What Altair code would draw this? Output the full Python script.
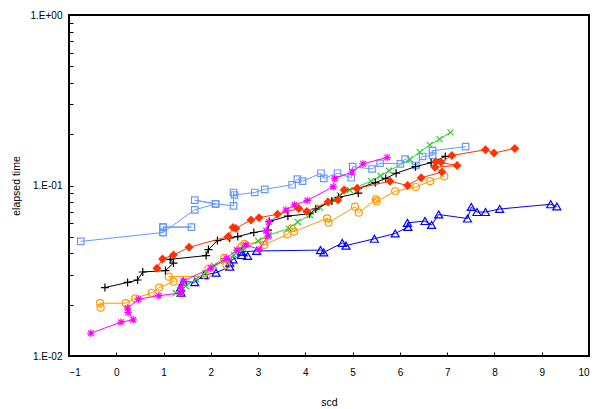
import altair as alt
import pandas as pd

# ---- data ----
SQ_X = [-0.75, 0.99, 0.99, 1.59, 0.99, 0.99, 1.66, 2.10, 1.66, 2.10, 2.48, 2.48, 2.50, 2.93, 3.14,
        3.72, 3.83, 3.94, 4.33, 4.39, 4.68, 4.97, 5.00, 5.41, 5.58, 6.01, 6.11, 6.34, 6.48, 6.69, 6.69, 7.39]
SQ_Y = [0.047, 0.053, 0.057, 0.057, 0.057, 0.053, 0.072, 0.078, 0.082, 0.078, 0.076, 0.091, 0.088, 0.091, 0.095,
        0.101, 0.109, 0.106, 0.118, 0.110, 0.118, 0.111, 0.129, 0.125, 0.135, 0.134, 0.143, 0.131, 0.148, 0.150, 0.160, 0.169]

DI_X = [0.86, 0.98, 1.21, 1.54, 2.37, 2.47, 2.53, 2.85, 3.02, 3.41, 3.86, 4.03, 4.48, 4.69, 4.82, 5.09,
        5.79, 6.16, 6.45, 6.89, 6.74, 7.21, 6.76, 6.87, 7.10, 7.81, 7.99, 8.43]
DI_Y = [0.0327, 0.0371, 0.0391, 0.0434, 0.0502, 0.0567, 0.0560, 0.0628, 0.0647, 0.0678, 0.0733, 0.0704, 0.0800,
        0.0822, 0.0941, 0.0960, 0.106, 0.100, 0.111, 0.120, 0.128, 0.131, 0.138, 0.137, 0.150, 0.162, 0.155, 0.165]

PL_X = [-0.24, 0.24, 0.45, 0.56, 1.04, 1.21, 1.14, 1.90, 1.95, 2.14, 2.40, 2.57, 2.91, 3.21, 3.24, 3.63,
        4.09, 4.22, 4.56, 4.70, 5.12, 5.11, 5.48, 5.70, 5.92, 6.33, 6.66, 6.96]
PL_Y = [0.0252, 0.0270, 0.0279, 0.0311, 0.0317, 0.0351, 0.0369, 0.0388, 0.0421, 0.0475, 0.0492, 0.0502, 0.0530,
        0.0548, 0.0615, 0.0662, 0.0683, 0.0728, 0.0811, 0.0851, 0.0903, 0.0960, 0.104, 0.110, 0.118, 0.129, 0.136, 0.148]

XX_X = [1.26, 1.47, 1.69, 1.88, 2.07, 2.28, 2.49, 2.70, 3.00, 3.23, 3.65, 3.84, 4.10, 4.31, 4.52, 4.73,
        4.94, 5.39, 5.59, 5.77, 6.21, 6.42, 6.63, 6.84, 7.07]
XX_Y = [0.0234, 0.0257, 0.0283, 0.0307, 0.0337, 0.0361, 0.0391, 0.0424, 0.0473, 0.0513, 0.0558, 0.0611, 0.0671,
        0.0741, 0.0811, 0.0880, 0.0941, 0.106, 0.114, 0.122, 0.142, 0.157, 0.173, 0.187, 0.205]

ST_X = [-0.54, 0.10, 0.36, 0.25, 0.24, 0.47, 0.90, 1.36, 1.37, 1.42, 2.00, 2.33, 2.55, 2.74, 3.02, 3.21,
        3.17, 3.23, 3.59, 3.77, 4.04, 4.59, 4.62, 4.99, 5.22, 5.73]
ST_Y = [0.0136, 0.0158, 0.0163, 0.0180, 0.0191, 0.0215, 0.0226, 0.0234, 0.0252, 0.0275, 0.0328, 0.0374, 0.0418,
        0.0448, 0.0422, 0.0506, 0.0543, 0.0611, 0.0718, 0.0769, 0.0817, 0.0984, 0.110, 0.120, 0.134, 0.146]

CI_X = [-0.33, -0.345, 0.20, 0.40, 0.75, 0.91, 1.21, 1.11, 1.91, 1.95, 2.28, 2.33, 2.65, 2.71, 3.11, 3.13,
        3.62, 3.71, 3.76, 4.46, 4.49, 5.05, 5.13, 5.49, 5.51, 5.90, 6.34, 6.64, 6.94]
CI_Y = [0.0192, 0.0204, 0.0204, 0.0218, 0.0235, 0.0252, 0.0273, 0.0292, 0.0294, 0.0326, 0.0376, 0.0342, 0.0438,
        0.0454, 0.0469, 0.0448, 0.0517, 0.0561, 0.0536, 0.0642, 0.0605, 0.0751, 0.0693, 0.0830, 0.0806, 0.0925,
        0.0980, 0.106, 0.113]

TR_X = [1.37, 1.36, 1.42, 1.66, 1.86, 2.11, 2.40, 2.40, 2.47, 2.65, 2.78, 2.65, 2.97, 4.32, 4.39, 4.78,
        4.86, 5.46, 5.90, 6.17, 6.16, 6.53, 6.67, 6.82, 7.43, 7.51, 7.63, 7.81, 8.11, 9.19, 9.32]
TR_Y = [0.0235, 0.0252, 0.0273, 0.0271, 0.0299, 0.0308, 0.0334, 0.0353, 0.0369, 0.0391, 0.0386, 0.0409, 0.0413,
        0.0418, 0.0405, 0.0460, 0.0444, 0.0487, 0.0523, 0.0571, 0.0604, 0.0619, 0.0587, 0.0676, 0.0640, 0.0748,
        0.0699, 0.0699, 0.0728, 0.0776, 0.0753]

Y_TICKS = [0.01, 0.02, 0.03, 0.04, 0.05, 0.06, 0.07, 0.08, 0.09,
           0.1, 0.2, 0.3, 0.4, 0.5, 0.6, 0.7, 0.8, 0.9, 1.0]
X_TICKS = list(range(-1, 11))

PLUS = "M-1,0L1,0M0,-1L0,1"
CROSS = "M-1,-1L1,1M-1,1L1,-1"
STAR = "M-1,0L1,0M0,-1L0,1M-0.75,-0.75L0.75,0.75M-0.75,0.75L0.75,-0.75"

SERIES = [
    # name, xs, ys, color, shape, filled, size
    ("sq", SQ_X, SQ_Y, "#6699ff", "square", False, 42),
    ("tr", TR_X, TR_Y, "#0000ff", "triangle-up", False, 64),
    ("ci", CI_X, CI_Y, "#ff9900", "circle", False, 49),
    ("xx", XX_X, XX_Y, "#33cc33", CROSS, False, 36),
    ("pl", PL_X, PL_Y, "#000000", PLUS, False, 64),
    ("st", ST_X, ST_Y, "#ff00ff", STAR, False, 56),
    ("di", DI_X, DI_Y, "#ff3300", "diamond", True, 80),
]

xscale = alt.Scale(domain=[-1, 10], nice=False, zero=False)
yscale = alt.Scale(type="log", domain=[0.01, 1], nice=False)

label_expr = ("abs(datum.value-0.01)<1e-9 ? '1.E-02' : abs(datum.value-0.1)<1e-9 ? '1.E-01' : "
              "abs(datum.value-1)<1e-9 ? '1.E+00' : ''")

xaxis = alt.Axis(values=X_TICKS, title="scd", grid=False, domain=False, tickSize=4, offset=-4,
                 tickColor="black", labelPadding=11, titlePadding=20, format="d")
yaxis = alt.Axis(values=Y_TICKS, title="elapsed time", grid=False, domain=False, tickSize=4, offset=-4,
                 tickColor="black", labelPadding=7, titlePadding=9, labelExpr=label_expr)

layers = []
for name, xs, ys, color, shape, filled, size in SERIES:
    df = pd.DataFrame({"x": xs, "y": ys, "i": list(range(len(xs)))})
    base = alt.Chart(df).encode(
        x=alt.X("x:Q", scale=xscale, axis=xaxis),
        y=alt.Y("y:Q", scale=yscale, axis=yaxis),
    )
    line = base.mark_line(color=color, strokeWidth=1).encode(order="i:Q")
    pts_kwargs = dict(shape=shape, size=size, filled=filled, opacity=1)
    if filled:
        pts_kwargs.update(color=color, strokeWidth=0)
    else:
        pts_kwargs.update(stroke=color, strokeWidth=1.2, fill=None)
    pts = base.mark_point(**pts_kwargs)
    layers += [line, pts]

chart = alt.layer(*layers).properties(
    width=520, height=341,
    autosize="none",
    padding={"left": 69, "top": 15, "right": 14, "bottom": 53},
    background="white",
).configure_view(
    stroke="black", strokeWidth=2
).configure_axis(
    labelFont="Liberation Sans", titleFont="Liberation Sans",
    labelFontSize=10, titleFontSize=10.5, titleFontWeight="normal",
    labelColor="black", titleColor="black",
)

chart.save("out.html", embed_options={"renderer": "svg", "actions": False})
